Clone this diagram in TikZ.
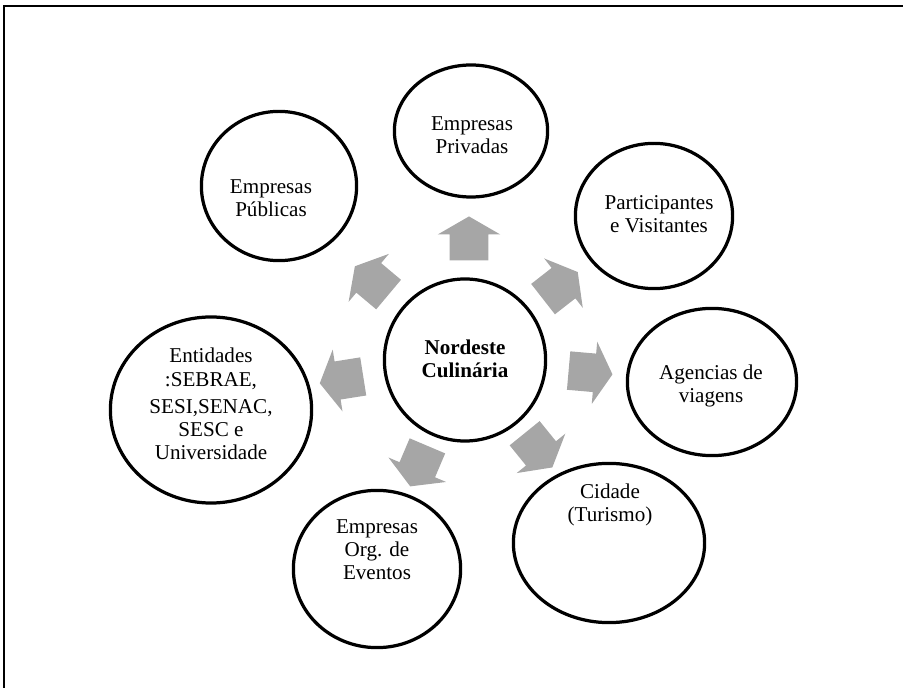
\documentclass[tikz,border=0pt]{standalone}
\usepackage{fontspec}
\setmainfont{Liberation Serif}
\usetikzlibrary{shapes.geometric, shapes.arrows, calc}
\definecolor{arrowgray}{RGB}{166, 166, 166}
\tikzset{
  blockarrow/.style={single arrow, fill=arrowgray, draw=none, inner xsep=0pt, inner ysep=0.475cm, minimum height=1.1cm, minimum width=1.55cm, single arrow head extend=0.3cm, single arrow tip angle=120, anchor=center}
}
\begin{document}
\begin{tikzpicture}[x=0.025cm, y=-0.025cm,
    ringnode/.style={ellipse, draw=black, line width=2.3pt, fill=white, inner sep=0pt},
    lbl/.style={font=\fontsize{15}{16.4}\selectfont, align=center, inner sep=0pt}
]
    \useasboundingbox (0,0) rectangle (903,688);
    % canvas frame, only top and left edge are visible
    \draw[line width=1.4pt] (4,688) -- (4,6) -- (903,6);

    % Center circle
    \node[ringnode, minimum width=4.03cm, minimum height=4.05cm] (nord) at (465,360) {};
    \node[lbl, font=\fontsize{15}{16.4}\selectfont\bfseries] (nord_t) at (465,359) {Nordeste\\Culinária};

    % Outer ring, clockwise from the top
    \node[ringnode, minimum width=3.83cm, minimum height=3.3cm] (priv) at (471,131) {};
    \node[lbl] (priv_t) at (472,135) {Empresas\\Privadas};

    \node[ringnode, minimum width=3.93cm, minimum height=3.63cm] (part) at (654,216) {};
    \node[lbl] (part_t) at (659,214) {Participantes\\e Visitantes};

    \node[ringnode, minimum width=4.23cm, minimum height=3.68cm] (agen) at (712,382) {};
    \node[lbl] (agen_t) at (711,386) {Agencias de\\viagens};

    \node[ringnode, minimum width=4.78cm, minimum height=3.98cm] (cid) at (609,543) {};
    \node[lbl] (cid_t) at (610,505) {Cidade\\(Turismo)};

    \node[ringnode, minimum width=4.18cm, minimum height=3.93cm] (even) at (377,569) {};
    \node[lbl] (even_t) at (377,550) {Empresas\\Org. de\\Eventos};

    \node[ringnode, minimum width=5.03cm, minimum height=4.65cm] (ent) at (211,410) {};
    \node[lbl] (ent_t) at (211,404) {Entidades\\:SEBRAE,\\[3pt]SESI,SENAC,\\SESC e\\Universidade};

    \node[ringnode, minimum width=3.88cm, minimum height=3.73cm] (pub) at (279,186) {};
    \node[lbl] (pub_t) at (271,198) {Empresas\\Públicas};

    % Gray block arrows pointing out of the center
    \node[blockarrow, rotate=90] (a_priv) at (469,244) {};
    \node[blockarrow, rotate=38] (a_part) at (556,289) {};
    \node[blockarrow, rotate=-5] (a_agen) at (585,372) {};
    \node[blockarrow, rotate=-51] (a_cid) at (535,446) {};
    \node[blockarrow, rotate=-113] (a_even) at (421,461) {};
    \node[blockarrow, rotate=189] (a_ent) at (347,379) {};
    \node[blockarrow, rotate=140] (a_pub) at (376,284) {};
\end{tikzpicture}
\end{document}
